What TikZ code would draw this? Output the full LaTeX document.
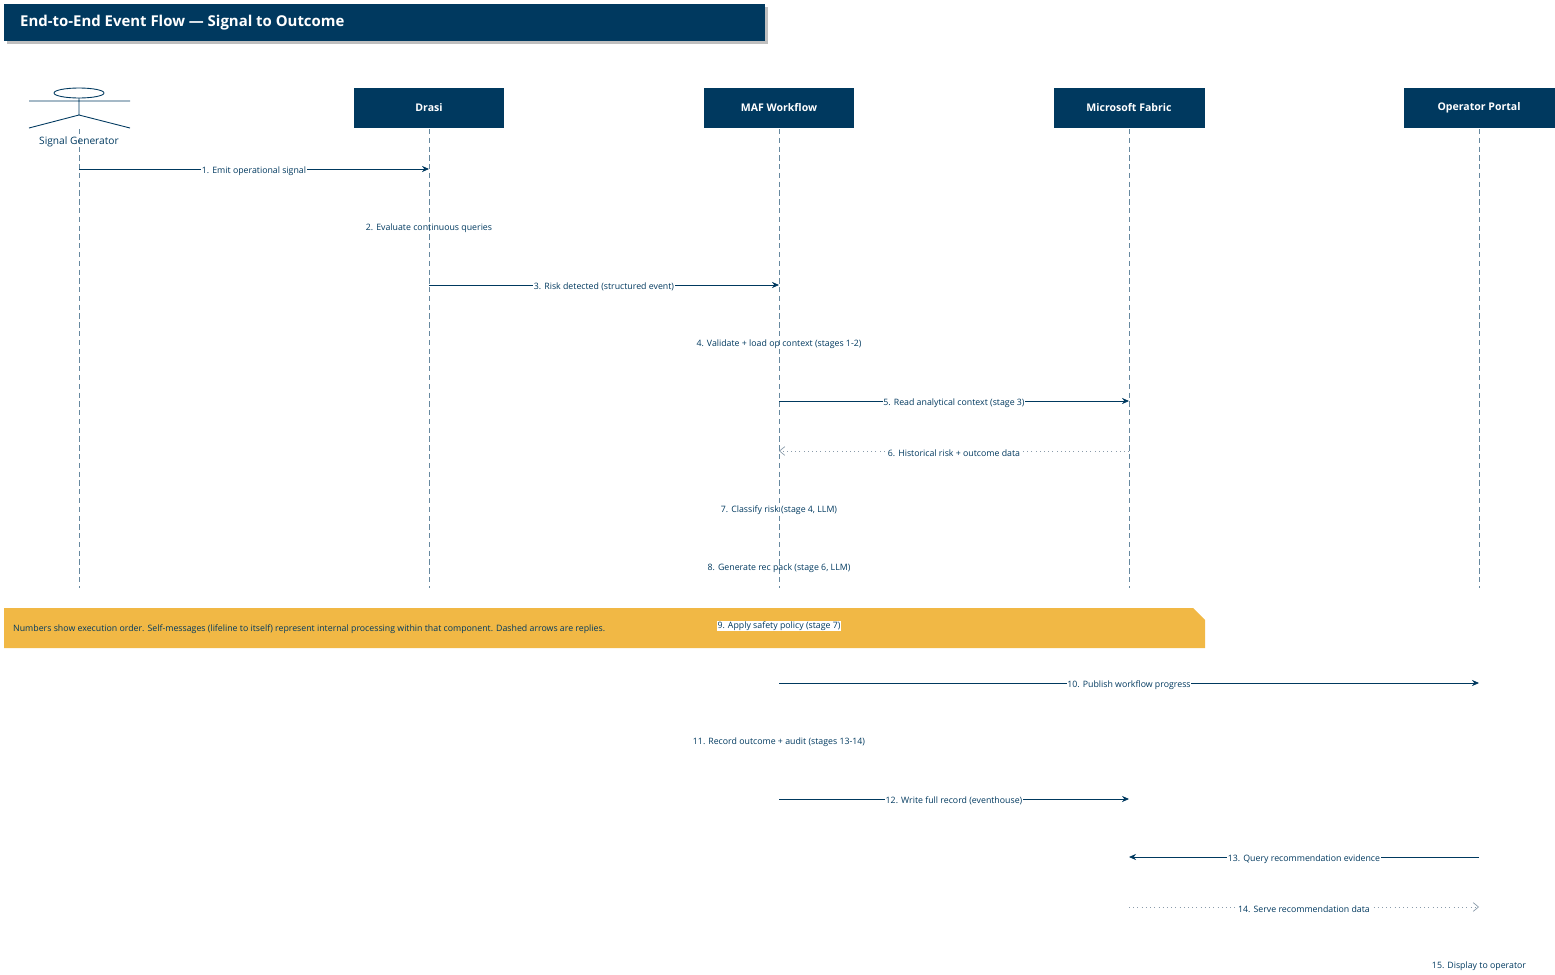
\documentclass[tikz,border=0pt]{standalone}
\usepackage{fontspec}
\setmainfont{Open Sans}
\usetikzlibrary{arrows.meta,shapes.symbols}
\definecolor{navy}{HTML}{00395F}
\definecolor{amber}{HTML}{F1B845}
\definecolor{reply}{HTML}{8A9BAA}
\tikzset{
  head/.style={fill=navy,text=white,font=\fontsize{6}{7}\selectfont\bfseries,minimum width=3.02cm,minimum height=0.8cm,inner sep=0pt},
  life/.style={navy!60,dash pattern=on 3pt off 2pt,line width=0.4pt},
  msg/.style={navy,line width=0.5pt,-{Stealth[length=4pt,width=3.5pt]}},
  rep/.style={reply,line width=0.4pt,dotted,-{Straight Barb[length=3pt,width=5pt]}},
  lbl/.style={fill=white,text=navy,font=\fontsize{5}{6}\selectfont,inner sep=0.5pt},
  self/.style={text=navy,font=\fontsize{5}{6}\selectfont,inner sep=0.5pt}
}
\begin{document}
\begin{tikzpicture}[x=0.02cm,y=-0.02cm]
\useasboundingbox (0,0) rectangle (1555,974);
% title
\fill[black!25] (7,7) rectangle (768,44);
\node[fill=navy,minimum width=15.22cm,minimum height=0.74cm,inner sep=0pt,anchor=north west] (title) at (4,4) {};
\node[text=white,font=\fontsize{8.5}{10}\selectfont\bfseries,anchor=west] at (14,23) {End-to-End Event Flow — Signal to Outcome};
% actor
\draw[navy,line width=0.5pt] (79,93) ellipse (0.5cm and 0.1cm);
\draw[navy,line width=0.5pt] (29,101) -- (130,101) (79,98) -- (79,115) (29,128) -- (79,115) -- (130,128);
\node[text=navy,font=\fontsize{5.8}{7}\selectfont] (sg) at (79,142) {Signal Generator};
% heads
\node[head] (drasi) at (429,108) {Drasi};
\node[head] (maf) at (779,108) {MAF Workflow};
\node[head] (fab) at (1129,108) {Microsoft Fabric};
\node[head] (op) at (1479,108) {Operator Portal};
% lifelines
\foreach \n/\x in {sg/79,drasi/429,maf/779,fab/1129,op/1479}{
  \coordinate (\n-t) at (\x,129);
  \coordinate (\n-b) at (\x,588);
  \draw[life] (\n-t) -- (\n-b);
}
% note
\fill[amber] (4,608) -- (1193,608) -- (1205,620) -- (1205,648) -- (4,648) -- cycle;
\node[self,anchor=west] (note) at (12,629) {Numbers show execution order. Self-messages (lifeline to itself) represent internal processing within that component. Dashed arrows are replies.};
% messages
\foreach \a/\b/\y/\t/\s in {sg/drasi/169/{1. Emit operational signal}/msg,
  drasi/maf/285/{3. Risk detected (structured event)}/msg,
  maf/fab/401/{5. Read analytical context (stage 3)}/msg,
  fab/maf/451/{6. Historical risk + outcome data}/rep,
  maf/op/683/{10. Publish workflow progress}/msg,
  maf/fab/799/{12. Write full record (eventhouse)}/msg,
  op/fab/857/{13. Query recommendation evidence}/msg,
  fab/op/907/{14. Serve recommendation data}/rep}{
  \coordinate (s) at (\a-t |- 0,\y);
  \coordinate (e) at (\b-t |- 0,\y);
  \draw[\s] (s) -- node[lbl,yshift=-1pt] {\t} (e);
}
% self messages
\foreach \n/\y/\t in {drasi/228/{2. Evaluate continuous queries},
  maf/344/{4. Validate + load op context (stages 1-2)},
  maf/510/{7. Classify risk (stage 4, LLM)},
  maf/568/{8. Generate rec pack (stage 6, LLM)},
  maf/742/{11. Record outcome + audit (stages 13-14)},
  op/966/{15. Display to operator}}{
  \node[self] at (\n-t |- 0,\y) {\t};
}
\node[self,fill=white] (safety) at (779,626) {9. Apply safety policy (stage 7)};
\end{tikzpicture}
\end{document}
